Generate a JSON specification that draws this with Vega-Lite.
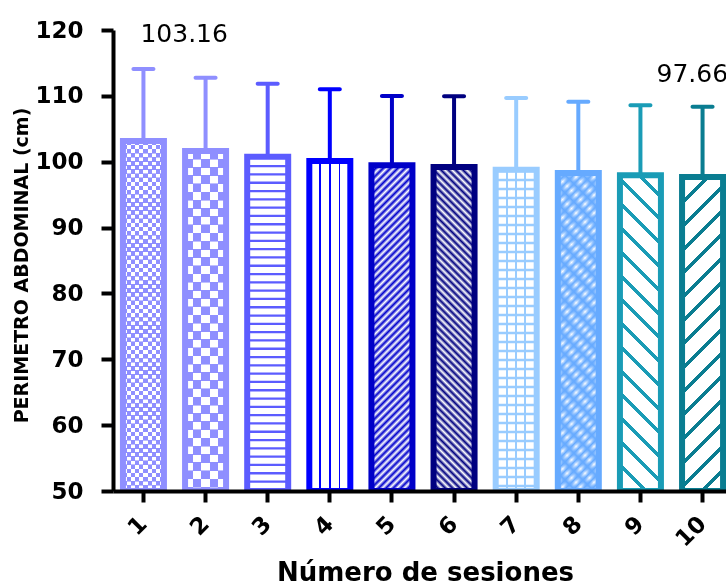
{
"$schema":"https://vega.github.io/schema/vega-lite/v6.json",
"width":613,"height":461,
"autosize":{"type":"none"},
"padding":{"left":113,"top":30,"right":0,"bottom":97},
"background":"white",
"config":{"view":{"stroke":null},"font":"DejaVu Sans"},
"data":{"values":[
{"sesion":"1","media":103.16,"sup":114.08},
{"sesion":"2","media":101.63,"sup":112.76},
{"sesion":"3","media":100.76,"sup":111.85},
{"sesion":"4","media":100.11,"sup":111.0},
{"sesion":"5","media":99.46,"sup":109.98},
{"sesion":"6","media":99.2,"sup":109.93},
{"sesion":"7","media":98.79,"sup":109.67},
{"sesion":"8","media":98.29,"sup":109.11},
{"sesion":"9","media":97.94,"sup":108.57},
{"sesion":"10","media":97.66,"sup":108.35}
]},
"encoding":{
"x":{"field":"sesion","type":"ordinal","sort":null,"scale":{"range":[0,620],"paddingInner":0.34,"paddingOuter":0.16},
"axis":{"title":"Número de sesiones","labelAngle":-45,"labelAlign":"right","labelBaseline":"middle","labelFont":"DejaVu Sans","labelFontWeight":"bold","labelFontSize":23,"labelColor":"black","labelPadding":18,"domainColor":"black","domainWidth":4,"tickColor":"black","tickWidth":4,"tickSize":11,"titleFont":"DejaVu Sans","titleFontWeight":"bold","titleFontSize":26,"titleColor":"black","titleX":312,"titleY":89,"titleAlign":"center","titleBaseline":"alphabetic","zindex":1}},
"y":{"field":"media","type":"quantitative","scale":{"domain":[50,120],"nice":false,"zero":false},
"axis":{"title":"PERIMETRO ABDOMINAL (cm)","values":[50,60,70,80,90,100,110,120],"grid":false,"domainColor":"black","domainWidth":4,"tickColor":"black","tickWidth":4,"tickSize":12,"labelFont":"DejaVu Sans","labelFontWeight":"bold","labelFontSize":23,"labelColor":"black","labelPadding":18,"labelFlush":false,"labelOverlap":false,"titleFont":"DejaVu Sans","titleFontWeight":"bold","titleFontSize":19,"titleColor":"black","titleX":-86,"titleY":235,"titleAngle":-90,"titleAlign":"center","titleBaseline":"alphabetic","zindex":1}}
},
"layer":[
{"mark":{"type":"bar","fill":"white"},"encoding":{"y2":{"datum":50}}},

{"transform":[{"filter":"datum.sesion=='1'"}],"mark":{"type":"rule","stroke":"white","strokeWidth":41,"strokeDash":[4.1,4.1],"blend":"difference"},"encoding":{"y2":{"datum":50}}},
{"transform":[{"filter":"datum.sesion=='1'"}],"mark":{"type":"bar","blend":"difference","fill":{"gradient":"linear","x1":0,"y1":0,"x2":1,"y2":0,"stops":[{"offset":0,"color":"#fff"},{"offset":0.1,"color":"#fff"},{"offset":0.1,"color":"transparent"},{"offset":0.2,"color":"transparent"},{"offset":0.2,"color":"#fff"},{"offset":0.3,"color":"#fff"},{"offset":0.3,"color":"transparent"},{"offset":0.4,"color":"transparent"},{"offset":0.4,"color":"#fff"},{"offset":0.5,"color":"#fff"},{"offset":0.5,"color":"transparent"},{"offset":0.6,"color":"transparent"},{"offset":0.6,"color":"#fff"},{"offset":0.7,"color":"#fff"},{"offset":0.7,"color":"transparent"},{"offset":0.8,"color":"transparent"},{"offset":0.8,"color":"#fff"},{"offset":0.9,"color":"#fff"},{"offset":0.9,"color":"transparent"},{"offset":1,"color":"transparent"}]}},"encoding":{"y2":{"datum":50}}},
{"transform":[{"filter":"datum.sesion=='1'"}],"mark":{"type":"bar","fill":"#8f8fff","blend":"lighten"},"encoding":{"y2":{"datum":50}}},

{"transform":[{"filter":"datum.sesion=='2'"}],"mark":{"type":"rule","stroke":"white","strokeWidth":41,"strokeDash":[8.2,8.2],"blend":"difference"},"encoding":{"y2":{"datum":50}}},
{"transform":[{"filter":"datum.sesion=='2'"}],"mark":{"type":"bar","blend":"difference","fill":{"gradient":"linear","x1":0,"y1":0,"x2":1,"y2":0,"stops":[{"offset":0,"color":"#fff"},{"offset":0.2,"color":"#fff"},{"offset":0.2,"color":"transparent"},{"offset":0.4,"color":"transparent"},{"offset":0.4,"color":"#fff"},{"offset":0.6,"color":"#fff"},{"offset":0.6,"color":"transparent"},{"offset":0.8,"color":"transparent"},{"offset":0.8,"color":"#fff"},{"offset":1,"color":"#fff"}]}},"encoding":{"y2":{"datum":50}}},
{"transform":[{"filter":"datum.sesion=='2'"}],"mark":{"type":"bar","fill":"#8f8fff","blend":"lighten"},"encoding":{"y2":{"datum":50}}},

{"transform":[{"filter":"datum.sesion=='3'"}],"mark":{"type":"rule","stroke":"#5c5cff","strokeWidth":41,"strokeDash":[2.3,6]},"encoding":{"y2":{"datum":50}}},

{"transform":[{"filter":"datum.sesion=='4'"}],"mark":{"type":"bar","fill":{"gradient":"linear","x1":0,"y1":0,"x2":1,"y2":0,"stops":[{"offset":0,"color":"#fff"},{"offset":0.244,"color":"#fff"},{"offset":0.244,"color":"blue"},{"offset":0.281,"color":"blue"},{"offset":0.281,"color":"#fff"},{"offset":0.482,"color":"#fff"},{"offset":0.482,"color":"blue"},{"offset":0.518,"color":"blue"},{"offset":0.518,"color":"#fff"},{"offset":0.719,"color":"#fff"},{"offset":0.719,"color":"blue"},{"offset":0.756,"color":"blue"},{"offset":0.756,"color":"#fff"},{"offset":1,"color":"#fff"}]}},"encoding":{"y2":{"datum":50}}},

{"transform":[{"filter":"datum.sesion=='5'"}],"mark":{"type":"bar","fill":{"gradient":"linear","x1":0,"y1":0,"x2":0.1395,"y2":1.1083,"stops":[{"offset":0,"color":"#00c"},{"offset":0.01,"color":"#fff"},{"offset":0.02,"color":"#00c"},{"offset":0.03,"color":"#fff"},{"offset":0.04,"color":"#00c"},{"offset":0.05,"color":"#fff"},{"offset":0.06,"color":"#00c"},{"offset":0.07,"color":"#fff"},{"offset":0.08,"color":"#00c"},{"offset":0.09,"color":"#fff"},{"offset":0.1,"color":"#00c"},{"offset":0.11,"color":"#fff"},{"offset":0.12,"color":"#00c"},{"offset":0.13,"color":"#fff"},{"offset":0.14,"color":"#00c"},{"offset":0.15,"color":"#fff"},{"offset":0.16,"color":"#00c"},{"offset":0.17,"color":"#fff"},{"offset":0.18,"color":"#00c"},{"offset":0.19,"color":"#fff"},{"offset":0.2,"color":"#00c"},{"offset":0.21,"color":"#fff"},{"offset":0.22,"color":"#00c"},{"offset":0.23,"color":"#fff"},{"offset":0.24,"color":"#00c"},{"offset":0.25,"color":"#fff"},{"offset":0.26,"color":"#00c"},{"offset":0.27,"color":"#fff"},{"offset":0.28,"color":"#00c"},{"offset":0.29,"color":"#fff"},{"offset":0.3,"color":"#00c"},{"offset":0.31,"color":"#fff"},{"offset":0.32,"color":"#00c"},{"offset":0.33,"color":"#fff"},{"offset":0.34,"color":"#00c"},{"offset":0.35,"color":"#fff"},{"offset":0.36,"color":"#00c"},{"offset":0.37,"color":"#fff"},{"offset":0.38,"color":"#00c"},{"offset":0.39,"color":"#fff"},{"offset":0.4,"color":"#00c"},{"offset":0.41,"color":"#fff"},{"offset":0.42,"color":"#00c"},{"offset":0.43,"color":"#fff"},{"offset":0.44,"color":"#00c"},{"offset":0.45,"color":"#fff"},{"offset":0.46,"color":"#00c"},{"offset":0.47,"color":"#fff"},{"offset":0.48,"color":"#00c"},{"offset":0.49,"color":"#fff"},{"offset":0.5,"color":"#00c"},{"offset":0.51,"color":"#fff"},{"offset":0.52,"color":"#00c"},{"offset":0.53,"color":"#fff"},{"offset":0.54,"color":"#00c"},{"offset":0.55,"color":"#fff"},{"offset":0.56,"color":"#00c"},{"offset":0.57,"color":"#fff"},{"offset":0.58,"color":"#00c"},{"offset":0.59,"color":"#fff"},{"offset":0.6,"color":"#00c"},{"offset":0.61,"color":"#fff"},{"offset":0.62,"color":"#00c"},{"offset":0.63,"color":"#fff"},{"offset":0.64,"color":"#00c"},{"offset":0.65,"color":"#fff"},{"offset":0.66,"color":"#00c"},{"offset":0.67,"color":"#fff"},{"offset":0.68,"color":"#00c"},{"offset":0.69,"color":"#fff"},{"offset":0.7,"color":"#00c"},{"offset":0.71,"color":"#fff"},{"offset":0.72,"color":"#00c"},{"offset":0.73,"color":"#fff"},{"offset":0.74,"color":"#00c"},{"offset":0.75,"color":"#fff"},{"offset":0.76,"color":"#00c"},{"offset":0.77,"color":"#fff"},{"offset":0.78,"color":"#00c"},{"offset":0.79,"color":"#fff"},{"offset":0.8,"color":"#00c"},{"offset":0.81,"color":"#fff"},{"offset":0.82,"color":"#00c"},{"offset":0.83,"color":"#fff"},{"offset":0.84,"color":"#00c"},{"offset":0.85,"color":"#fff"},{"offset":0.86,"color":"#00c"},{"offset":0.87,"color":"#fff"},{"offset":0.88,"color":"#00c"},{"offset":0.89,"color":"#fff"},{"offset":0.9,"color":"#00c"},{"offset":0.91,"color":"#fff"},{"offset":0.92,"color":"#00c"},{"offset":0.93,"color":"#fff"},{"offset":0.94,"color":"#00c"},{"offset":0.95,"color":"#fff"},{"offset":0.96,"color":"#00c"},{"offset":0.97,"color":"#fff"},{"offset":0.98,"color":"#00c"},{"offset":0.99,"color":"#fff"},{"offset":1,"color":"#00c"}]}},"encoding":{"y2":{"datum":50}}},

{"transform":[{"filter":"datum.sesion=='6'"}],"mark":{"type":"bar","fill":{"gradient":"linear","x1":0,"y1":1,"x2":0.1403,"y2":-0.1088,"stops":[{"offset":0,"color":"navy"},{"offset":0.01,"color":"#fff"},{"offset":0.02,"color":"navy"},{"offset":0.03,"color":"#fff"},{"offset":0.04,"color":"navy"},{"offset":0.05,"color":"#fff"},{"offset":0.06,"color":"navy"},{"offset":0.07,"color":"#fff"},{"offset":0.08,"color":"navy"},{"offset":0.09,"color":"#fff"},{"offset":0.1,"color":"navy"},{"offset":0.11,"color":"#fff"},{"offset":0.12,"color":"navy"},{"offset":0.13,"color":"#fff"},{"offset":0.14,"color":"navy"},{"offset":0.15,"color":"#fff"},{"offset":0.16,"color":"navy"},{"offset":0.17,"color":"#fff"},{"offset":0.18,"color":"navy"},{"offset":0.19,"color":"#fff"},{"offset":0.2,"color":"navy"},{"offset":0.21,"color":"#fff"},{"offset":0.22,"color":"navy"},{"offset":0.23,"color":"#fff"},{"offset":0.24,"color":"navy"},{"offset":0.25,"color":"#fff"},{"offset":0.26,"color":"navy"},{"offset":0.27,"color":"#fff"},{"offset":0.28,"color":"navy"},{"offset":0.29,"color":"#fff"},{"offset":0.3,"color":"navy"},{"offset":0.31,"color":"#fff"},{"offset":0.32,"color":"navy"},{"offset":0.33,"color":"#fff"},{"offset":0.34,"color":"navy"},{"offset":0.35,"color":"#fff"},{"offset":0.36,"color":"navy"},{"offset":0.37,"color":"#fff"},{"offset":0.38,"color":"navy"},{"offset":0.39,"color":"#fff"},{"offset":0.4,"color":"navy"},{"offset":0.41,"color":"#fff"},{"offset":0.42,"color":"navy"},{"offset":0.43,"color":"#fff"},{"offset":0.44,"color":"navy"},{"offset":0.45,"color":"#fff"},{"offset":0.46,"color":"navy"},{"offset":0.47,"color":"#fff"},{"offset":0.48,"color":"navy"},{"offset":0.49,"color":"#fff"},{"offset":0.5,"color":"navy"},{"offset":0.51,"color":"#fff"},{"offset":0.52,"color":"navy"},{"offset":0.53,"color":"#fff"},{"offset":0.54,"color":"navy"},{"offset":0.55,"color":"#fff"},{"offset":0.56,"color":"navy"},{"offset":0.57,"color":"#fff"},{"offset":0.58,"color":"navy"},{"offset":0.59,"color":"#fff"},{"offset":0.6,"color":"navy"},{"offset":0.61,"color":"#fff"},{"offset":0.62,"color":"navy"},{"offset":0.63,"color":"#fff"},{"offset":0.64,"color":"navy"},{"offset":0.65,"color":"#fff"},{"offset":0.66,"color":"navy"},{"offset":0.67,"color":"#fff"},{"offset":0.68,"color":"navy"},{"offset":0.69,"color":"#fff"},{"offset":0.7,"color":"navy"},{"offset":0.71,"color":"#fff"},{"offset":0.72,"color":"navy"},{"offset":0.73,"color":"#fff"},{"offset":0.74,"color":"navy"},{"offset":0.75,"color":"#fff"},{"offset":0.76,"color":"navy"},{"offset":0.77,"color":"#fff"},{"offset":0.78,"color":"navy"},{"offset":0.79,"color":"#fff"},{"offset":0.8,"color":"navy"},{"offset":0.81,"color":"#fff"},{"offset":0.82,"color":"navy"},{"offset":0.83,"color":"#fff"},{"offset":0.84,"color":"navy"},{"offset":0.85,"color":"#fff"},{"offset":0.86,"color":"navy"},{"offset":0.87,"color":"#fff"},{"offset":0.88,"color":"navy"},{"offset":0.89,"color":"#fff"},{"offset":0.9,"color":"navy"},{"offset":0.91,"color":"#fff"},{"offset":0.92,"color":"navy"},{"offset":0.93,"color":"#fff"},{"offset":0.94,"color":"navy"},{"offset":0.95,"color":"#fff"},{"offset":0.96,"color":"navy"},{"offset":0.97,"color":"#fff"},{"offset":0.98,"color":"navy"},{"offset":0.99,"color":"#fff"},{"offset":1,"color":"navy"}]}},"encoding":{"y2":{"datum":50}}},

{"transform":[{"filter":"datum.sesion=='7'"}],"mark":{"type":"rule","stroke":"#9cf","strokeWidth":41,"strokeDash":[2.5,6.5]},"encoding":{"y2":{"datum":50}}},
{"transform":[{"filter":"datum.sesion=='7'"}],"mark":{"type":"bar","fill":{"gradient":"linear","x1":0,"y1":0,"x2":1,"y2":0,"stops":[{"offset":0,"color":"transparent"},{"offset":0.25,"color":"transparent"},{"offset":0.25,"color":"#9cf"},{"offset":0.31,"color":"#9cf"},{"offset":0.31,"color":"transparent"},{"offset":0.47,"color":"transparent"},{"offset":0.47,"color":"#9cf"},{"offset":0.53,"color":"#9cf"},{"offset":0.53,"color":"transparent"},{"offset":0.69,"color":"transparent"},{"offset":0.69,"color":"#9cf"},{"offset":0.75,"color":"#9cf"},{"offset":0.75,"color":"transparent"},{"offset":1,"color":"transparent"}]}},"encoding":{"y2":{"datum":50}}},

{"transform":[{"filter":"datum.sesion=='8'"}],"mark":{"type":"bar","fill":{"gradient":"linear","x1":0,"y1":0,"x2":0.1432,"y2":1.1105,"stops":[{"offset":0,"color":"#6af"},{"offset":0.0125,"color":"#fff"},{"offset":0.025,"color":"#6af"},{"offset":0.0375,"color":"#fff"},{"offset":0.05,"color":"#6af"},{"offset":0.0625,"color":"#fff"},{"offset":0.075,"color":"#6af"},{"offset":0.0875,"color":"#fff"},{"offset":0.1,"color":"#6af"},{"offset":0.1125,"color":"#fff"},{"offset":0.125,"color":"#6af"},{"offset":0.1375,"color":"#fff"},{"offset":0.15,"color":"#6af"},{"offset":0.1625,"color":"#fff"},{"offset":0.175,"color":"#6af"},{"offset":0.1875,"color":"#fff"},{"offset":0.2,"color":"#6af"},{"offset":0.2125,"color":"#fff"},{"offset":0.225,"color":"#6af"},{"offset":0.2375,"color":"#fff"},{"offset":0.25,"color":"#6af"},{"offset":0.2625,"color":"#fff"},{"offset":0.275,"color":"#6af"},{"offset":0.2875,"color":"#fff"},{"offset":0.3,"color":"#6af"},{"offset":0.3125,"color":"#fff"},{"offset":0.325,"color":"#6af"},{"offset":0.3375,"color":"#fff"},{"offset":0.35,"color":"#6af"},{"offset":0.3625,"color":"#fff"},{"offset":0.375,"color":"#6af"},{"offset":0.3875,"color":"#fff"},{"offset":0.4,"color":"#6af"},{"offset":0.4125,"color":"#fff"},{"offset":0.425,"color":"#6af"},{"offset":0.4375,"color":"#fff"},{"offset":0.45,"color":"#6af"},{"offset":0.4625,"color":"#fff"},{"offset":0.475,"color":"#6af"},{"offset":0.4875,"color":"#fff"},{"offset":0.5,"color":"#6af"},{"offset":0.5125,"color":"#fff"},{"offset":0.525,"color":"#6af"},{"offset":0.5375,"color":"#fff"},{"offset":0.55,"color":"#6af"},{"offset":0.5625,"color":"#fff"},{"offset":0.575,"color":"#6af"},{"offset":0.5875,"color":"#fff"},{"offset":0.6,"color":"#6af"},{"offset":0.6125,"color":"#fff"},{"offset":0.625,"color":"#6af"},{"offset":0.6375,"color":"#fff"},{"offset":0.65,"color":"#6af"},{"offset":0.6625,"color":"#fff"},{"offset":0.675,"color":"#6af"},{"offset":0.6875,"color":"#fff"},{"offset":0.7,"color":"#6af"},{"offset":0.7125,"color":"#fff"},{"offset":0.725,"color":"#6af"},{"offset":0.7375,"color":"#fff"},{"offset":0.75,"color":"#6af"},{"offset":0.7625,"color":"#fff"},{"offset":0.775,"color":"#6af"},{"offset":0.7875,"color":"#fff"},{"offset":0.8,"color":"#6af"},{"offset":0.8125,"color":"#fff"},{"offset":0.825,"color":"#6af"},{"offset":0.8375,"color":"#fff"},{"offset":0.85,"color":"#6af"},{"offset":0.8625,"color":"#fff"},{"offset":0.875,"color":"#6af"},{"offset":0.8875,"color":"#fff"},{"offset":0.9,"color":"#6af"},{"offset":0.9125,"color":"#fff"},{"offset":0.925,"color":"#6af"},{"offset":0.9375,"color":"#fff"},{"offset":0.95,"color":"#6af"},{"offset":0.9625,"color":"#fff"},{"offset":0.975,"color":"#6af"},{"offset":0.9875,"color":"#fff"},{"offset":1,"color":"#6af"}]}},"encoding":{"y2":{"datum":50}}},
{"transform":[{"filter":"datum.sesion=='8'"}],"mark":{"type":"bar","fill":{"gradient":"linear","x1":0,"y1":1,"x2":0.1432,"y2":-0.1105,"stops":[{"offset":0,"color":"#6af"},{"offset":0.025,"color":"rgba(102,170,255,0)"},{"offset":0.05,"color":"#6af"},{"offset":0.075,"color":"rgba(102,170,255,0)"},{"offset":0.1,"color":"#6af"},{"offset":0.125,"color":"rgba(102,170,255,0)"},{"offset":0.15,"color":"#6af"},{"offset":0.175,"color":"rgba(102,170,255,0)"},{"offset":0.2,"color":"#6af"},{"offset":0.225,"color":"rgba(102,170,255,0)"},{"offset":0.25,"color":"#6af"},{"offset":0.275,"color":"rgba(102,170,255,0)"},{"offset":0.3,"color":"#6af"},{"offset":0.325,"color":"rgba(102,170,255,0)"},{"offset":0.35,"color":"#6af"},{"offset":0.375,"color":"rgba(102,170,255,0)"},{"offset":0.4,"color":"#6af"},{"offset":0.425,"color":"rgba(102,170,255,0)"},{"offset":0.45,"color":"#6af"},{"offset":0.475,"color":"rgba(102,170,255,0)"},{"offset":0.5,"color":"#6af"},{"offset":0.525,"color":"rgba(102,170,255,0)"},{"offset":0.55,"color":"#6af"},{"offset":0.575,"color":"rgba(102,170,255,0)"},{"offset":0.6,"color":"#6af"},{"offset":0.625,"color":"rgba(102,170,255,0)"},{"offset":0.65,"color":"#6af"},{"offset":0.675,"color":"rgba(102,170,255,0)"},{"offset":0.7,"color":"#6af"},{"offset":0.725,"color":"rgba(102,170,255,0)"},{"offset":0.75,"color":"#6af"},{"offset":0.775,"color":"rgba(102,170,255,0)"},{"offset":0.8,"color":"#6af"},{"offset":0.825,"color":"rgba(102,170,255,0)"},{"offset":0.85,"color":"#6af"},{"offset":0.875,"color":"rgba(102,170,255,0)"},{"offset":0.9,"color":"#6af"},{"offset":0.925,"color":"rgba(102,170,255,0)"},{"offset":0.95,"color":"#6af"},{"offset":0.975,"color":"rgba(102,170,255,0)"},{"offset":1,"color":"#6af"}]}},"encoding":{"y2":{"datum":50}}},

{"transform":[{"filter":"datum.sesion=='9'"}],"mark":{"type":"bar","fill":{"gradient":"linear","x1":0,"y1":1,"x2":0.1443,"y2":-0.1112,"stops":[{"offset":0,"color":"#1a9cb6"},{"offset":0.014,"color":"#1a9cb6"},{"offset":0.014,"color":"#fff"},{"offset":0.0667,"color":"#fff"},{"offset":0.0667,"color":"#1a9cb6"},{"offset":0.0807,"color":"#1a9cb6"},{"offset":0.0807,"color":"#fff"},{"offset":0.1333,"color":"#fff"},{"offset":0.1333,"color":"#1a9cb6"},{"offset":0.1473,"color":"#1a9cb6"},{"offset":0.1473,"color":"#fff"},{"offset":0.2,"color":"#fff"},{"offset":0.2,"color":"#1a9cb6"},{"offset":0.214,"color":"#1a9cb6"},{"offset":0.214,"color":"#fff"},{"offset":0.2667,"color":"#fff"},{"offset":0.2667,"color":"#1a9cb6"},{"offset":0.2807,"color":"#1a9cb6"},{"offset":0.2807,"color":"#fff"},{"offset":0.3333,"color":"#fff"},{"offset":0.3333,"color":"#1a9cb6"},{"offset":0.3473,"color":"#1a9cb6"},{"offset":0.3473,"color":"#fff"},{"offset":0.4,"color":"#fff"},{"offset":0.4,"color":"#1a9cb6"},{"offset":0.414,"color":"#1a9cb6"},{"offset":0.414,"color":"#fff"},{"offset":0.4667,"color":"#fff"},{"offset":0.4667,"color":"#1a9cb6"},{"offset":0.4807,"color":"#1a9cb6"},{"offset":0.4807,"color":"#fff"},{"offset":0.5333,"color":"#fff"},{"offset":0.5333,"color":"#1a9cb6"},{"offset":0.5473,"color":"#1a9cb6"},{"offset":0.5473,"color":"#fff"},{"offset":0.6,"color":"#fff"},{"offset":0.6,"color":"#1a9cb6"},{"offset":0.614,"color":"#1a9cb6"},{"offset":0.614,"color":"#fff"},{"offset":0.6667,"color":"#fff"},{"offset":0.6667,"color":"#1a9cb6"},{"offset":0.6807,"color":"#1a9cb6"},{"offset":0.6807,"color":"#fff"},{"offset":0.7333,"color":"#fff"},{"offset":0.7333,"color":"#1a9cb6"},{"offset":0.7473,"color":"#1a9cb6"},{"offset":0.7473,"color":"#fff"},{"offset":0.8,"color":"#fff"},{"offset":0.8,"color":"#1a9cb6"},{"offset":0.814,"color":"#1a9cb6"},{"offset":0.814,"color":"#fff"},{"offset":0.8667,"color":"#fff"},{"offset":0.8667,"color":"#1a9cb6"},{"offset":0.8807,"color":"#1a9cb6"},{"offset":0.8807,"color":"#fff"},{"offset":0.9333,"color":"#fff"},{"offset":0.9333,"color":"#1a9cb6"},{"offset":0.9473,"color":"#1a9cb6"},{"offset":0.9473,"color":"#fff"},{"offset":1,"color":"#fff"}]}},"encoding":{"y2":{"datum":50}}},

{"transform":[{"filter":"datum.sesion=='10'"}],"mark":{"type":"bar","fill":{"gradient":"linear","x1":0,"y1":0,"x2":0.1452,"y2":1.1116,"stops":[{"offset":0,"color":"#0a7d91"},{"offset":0.014,"color":"#0a7d91"},{"offset":0.014,"color":"#fff"},{"offset":0.0667,"color":"#fff"},{"offset":0.0667,"color":"#0a7d91"},{"offset":0.0807,"color":"#0a7d91"},{"offset":0.0807,"color":"#fff"},{"offset":0.1333,"color":"#fff"},{"offset":0.1333,"color":"#0a7d91"},{"offset":0.1473,"color":"#0a7d91"},{"offset":0.1473,"color":"#fff"},{"offset":0.2,"color":"#fff"},{"offset":0.2,"color":"#0a7d91"},{"offset":0.214,"color":"#0a7d91"},{"offset":0.214,"color":"#fff"},{"offset":0.2667,"color":"#fff"},{"offset":0.2667,"color":"#0a7d91"},{"offset":0.2807,"color":"#0a7d91"},{"offset":0.2807,"color":"#fff"},{"offset":0.3333,"color":"#fff"},{"offset":0.3333,"color":"#0a7d91"},{"offset":0.3473,"color":"#0a7d91"},{"offset":0.3473,"color":"#fff"},{"offset":0.4,"color":"#fff"},{"offset":0.4,"color":"#0a7d91"},{"offset":0.414,"color":"#0a7d91"},{"offset":0.414,"color":"#fff"},{"offset":0.4667,"color":"#fff"},{"offset":0.4667,"color":"#0a7d91"},{"offset":0.4807,"color":"#0a7d91"},{"offset":0.4807,"color":"#fff"},{"offset":0.5333,"color":"#fff"},{"offset":0.5333,"color":"#0a7d91"},{"offset":0.5473,"color":"#0a7d91"},{"offset":0.5473,"color":"#fff"},{"offset":0.6,"color":"#fff"},{"offset":0.6,"color":"#0a7d91"},{"offset":0.614,"color":"#0a7d91"},{"offset":0.614,"color":"#fff"},{"offset":0.6667,"color":"#fff"},{"offset":0.6667,"color":"#0a7d91"},{"offset":0.6807,"color":"#0a7d91"},{"offset":0.6807,"color":"#fff"},{"offset":0.7333,"color":"#fff"},{"offset":0.7333,"color":"#0a7d91"},{"offset":0.7473,"color":"#0a7d91"},{"offset":0.7473,"color":"#fff"},{"offset":0.8,"color":"#fff"},{"offset":0.8,"color":"#0a7d91"},{"offset":0.814,"color":"#0a7d91"},{"offset":0.814,"color":"#fff"},{"offset":0.8667,"color":"#fff"},{"offset":0.8667,"color":"#0a7d91"},{"offset":0.8807,"color":"#0a7d91"},{"offset":0.8807,"color":"#fff"},{"offset":0.9333,"color":"#fff"},{"offset":0.9333,"color":"#0a7d91"},{"offset":0.9473,"color":"#0a7d91"},{"offset":0.9473,"color":"#fff"},{"offset":1,"color":"#fff"}]}},"encoding":{"y2":{"datum":50}}},

{"mark":{"type":"bar","filled":false,"strokeWidth":6,"clip":true},"encoding":{"y2":{"datum":50},"color":{"field":"sesion","type":"ordinal","sort":null,"scale":{"domain":["1","2","3","4","5","6","7","8","9","10"],"range":["#8f8fff","#8f8fff","#5c5cff","#0000ff","#0000c8","#000080","#99ccff","#66aaff","#1a9cb6","#0a7d91"]},"legend":null}}},
{"mark":{"type":"rule","strokeWidth":4},"encoding":{"y2":{"field":"sup"},"color":{"field":"sesion","type":"ordinal","sort":null,"legend":null}}},
{"mark":{"type":"tick","thickness":4,"size":24,"opacity":1,"cornerRadius":2},"encoding":{"y":{"field":"sup","type":"quantitative"},"color":{"field":"sesion","type":"ordinal","sort":null,"legend":null}}},
{"transform":[{"filter":"datum.sesion=='1'"}],"mark":{"type":"text","font":"DejaVu Sans","fontSize":25,"align":"left","baseline":"alphabetic","dx":-3,"dy":-27,"color":"black"},"encoding":{"y":{"field":"sup","type":"quantitative"},"text":{"field":"media","type":"quantitative","format":".2f"}}},
{"transform":[{"filter":"datum.sesion=='10'"}],"mark":{"type":"text","font":"DejaVu Sans","fontSize":25,"align":"left","baseline":"alphabetic","dx":-46,"dy":-25,"color":"black"},"encoding":{"y":{"field":"sup","type":"quantitative"},"text":{"field":"media","type":"quantitative","format":".2f"}}}
]
}
